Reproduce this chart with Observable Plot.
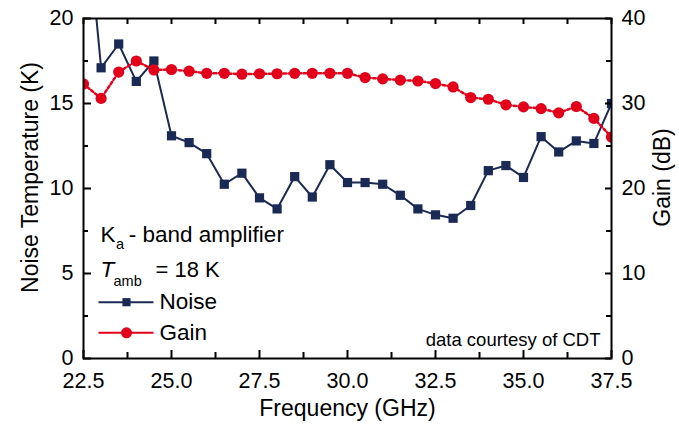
<!DOCTYPE html>
<html>
<head>
<meta charset="utf-8">
<script src="https://cdn.jsdelivr.net/npm/d3@7"></script>
<script src="https://cdn.jsdelivr.net/npm/@observablehq/plot@0.6"></script>
<style>
  html, body { margin: 0; padding: 0; background: #fff; }
  #chart { width: 679px; height: 426px; }
</style>
</head>
<body>
<div id="chart"></div>
<script>
// ---- data ----
const frequency = [22.5, 23.0, 23.5, 24.0, 24.5, 25.0, 25.5, 26.0, 26.5, 27.0, 27.5, 28.0, 28.5, 29.0, 29.5, 30.0,
                   30.5, 31.0, 31.5, 32.0, 32.5, 33.0, 33.5, 34.0, 34.5, 35.0, 35.5, 36.0, 36.5, 37.0, 37.5];
const noiseK = [28.0, 17.1, 18.5, 16.3, 17.5, 13.1, 12.7, 12.05, 10.25, 10.9, 9.45, 8.8, 10.7, 9.5, 11.4, 10.35,
                10.35, 10.25, 9.6, 8.8, 8.45, 8.25, 9.0, 11.05, 11.35, 10.65, 13.05, 12.15, 12.8, 12.65, 15.0];
const gainDB = [32.3, 30.6, 33.7, 35.0, 33.95, 34.0, 33.8, 33.55, 33.55, 33.45, 33.5, 33.5, 33.55, 33.55, 33.55, 33.55,
                33.05, 32.9, 32.75, 32.65, 32.35, 31.95, 30.7, 30.5, 29.85, 29.6, 29.4, 28.9, 29.65, 28.25, 26.05];

const xMajorTicks = [22.5, 25.0, 27.5, 30.0, 32.5, 35.0, 37.5];
const xMinorTicks = [23.75, 26.25, 28.75, 31.25, 33.75, 36.25];
const noiseMajorTicks = [0, 5, 10, 15, 20];
const noiseMinorTicks = [2.5, 7.5, 12.5, 17.5];
const gainMajorTicks = [0, 10, 20, 30, 40];
const gainMinorTicks = [5, 15, 25, 35];

const labels = {
  x: "Frequency (GHz)",
  yLeft: "Noise Temperature (K)",
  yRight: "Gain (dB)",
  noise: "Noise",
  gain: "Gain",
  credit: "data courtesy of CDT"
};

// ---- build ----
const rows = frequency.map((f, i) => ({f, noise: noiseK[i], gain: gainDB[i]}));
const gainToY = g => g / 2; // right axis 0–40 dB maps onto left axis 0–20 K

const W = 679, H = 426;
const mL = 83, mR = 68, mT = 18, mB = 68;
const fw = W - mL - mR, fh = H - mT - mB;
const NAVY = "#1b2a55", RED = "#e2001a";
const FONT = "'Liberation Sans', Arial, Helvetica, sans-serif";

const legendLine = {draw(ctx) { ctx.moveTo(-27.5, 0); ctx.lineTo(27.5, 0); }};
const lab = (t, dx, dy, o = {}) => Plot.text([t], {text: d => d, frameAnchor: "top-left", dx, dy,
  textAnchor: "start", lineAnchor: "bottom", fontSize: 22.5, fill: "black", ...o});

const chart = Plot.plot({
  width: W, height: H,
  marginLeft: mL, marginRight: mR, marginTop: mT, marginBottom: mB,
  style: {fontFamily: FONT, background: "white", color: "black"},
  x: {domain: [22.5, 37.5]},
  y: {domain: [0, 20]},
  marks: [
    // data
    Plot.line(rows, {x: "f", y: "noise", stroke: NAVY, strokeWidth: 2, clip: true}),
    Plot.dot(rows, {x: "f", y: "noise", symbol: "square", r: 5.2, fill: NAVY, stroke: "none", clip: true}),
    Plot.line(rows, {x: "f", y: d => gainToY(d.gain), stroke: RED, strokeWidth: 2.5, strokeDasharray: "2.5,2.5", clip: true}),
    Plot.dot(rows, {x: "f", y: d => gainToY(d.gain), r: 5.6, fill: RED, stroke: "none", clip: true}),
    // frame + inward ticks
    Plot.frame({stroke: "black", strokeWidth: 2}),
    Plot.tickX(xMajorTicks, {x: d => d, insetTop: fh - 8, stroke: "black", strokeWidth: 2}),
    Plot.tickX(xMinorTicks, {x: d => d, insetTop: fh - 6, stroke: "black", strokeWidth: 2}),
    Plot.tickX([...xMajorTicks, ...xMinorTicks], {x: d => d, insetBottom: fh - 6, stroke: "black", strokeWidth: 2}),
    Plot.tickY(noiseMajorTicks, {y: d => d, insetRight: fw - 8, stroke: "black", strokeWidth: 2}),
    Plot.tickY(noiseMinorTicks, {y: d => d, insetRight: fw - 5, stroke: "black", strokeWidth: 2}),
    Plot.tickY(gainMajorTicks, {y: gainToY, insetLeft: fw - 6, stroke: "black", strokeWidth: 2}),
    Plot.tickY(gainMinorTicks, {y: gainToY, insetLeft: fw - 5, stroke: "black", strokeWidth: 2}),
    // tick labels
    Plot.axisX(xMajorTicks, {tickSize: 0, tickPadding: 14, tickFormat: d => d.toFixed(1), fontSize: 21.5, label: null}),
    Plot.axisY(noiseMajorTicks, {tickSize: 0, tickPadding: 10, tickFormat: d => String(d), fontSize: 21.5, label: null}),
    Plot.text(gainMajorTicks, {y: gainToY, text: d => String(d), frameAnchor: "right", textAnchor: "start", dx: 10, fontSize: 21.5, fill: "black"}),
    // axis titles
    Plot.text([labels.x], {text: d => d, frameAnchor: "bottom", dy: 57, lineAnchor: "bottom", fontSize: 23, fill: "black"}),
    Plot.text([labels.yLeft], {text: d => d, frameAnchor: "left", textAnchor: "middle", dx: -53, dy: -11, rotate: -90, fontSize: 23, fill: "black"}),
    Plot.text([labels.yRight], {text: d => d, frameAnchor: "right", textAnchor: "middle", dx: 51, dy: -11, rotate: -90, fontSize: 23, fill: "black"}),
    // annotation block
    lab("K", 17, 223),
    lab("a", 32.5, 230.3, {fontSize: 14.5}),
    lab("- band amplifier", 45.3, 223),
    lab("T", 17, 258.5, {fontStyle: "italic"}),
    lab("amb", 30, 267.7, {fontSize: 14.5}),
    lab("= 18 K", 72, 258.5, {fontSize: 22}),
    // legend
    Plot.dot([0], {frameAnchor: "top-left", dx: 42.5, dy: 283.7, symbol: legendLine, stroke: NAVY, strokeWidth: 2, fill: "none"}),
    Plot.dot([0], {frameAnchor: "top-left", dx: 43, dy: 283.7, symbol: "square", r: 4.6, fill: NAVY, stroke: "none"}),
    lab(labels.noise, 76, 290.3),
    Plot.dot([0], {frameAnchor: "top-left", dx: 42.5, dy: 314.3, symbol: legendLine, stroke: RED, strokeWidth: 2, fill: "none"}),
    Plot.dot([0], {frameAnchor: "top-left", dx: 43, dy: 314.3, r: 5.5, fill: RED, stroke: "none"}),
    lab(labels.gain, 76, 321.3),
    // credit
    Plot.text([labels.credit], {text: d => d, frameAnchor: "top-right", dx: -11, dy: 327, textAnchor: "end", lineAnchor: "bottom", fontSize: 18.5, fill: "black"})
  ]
});
document.getElementById("chart").appendChild(chart);
</script>
</body>
</html>
